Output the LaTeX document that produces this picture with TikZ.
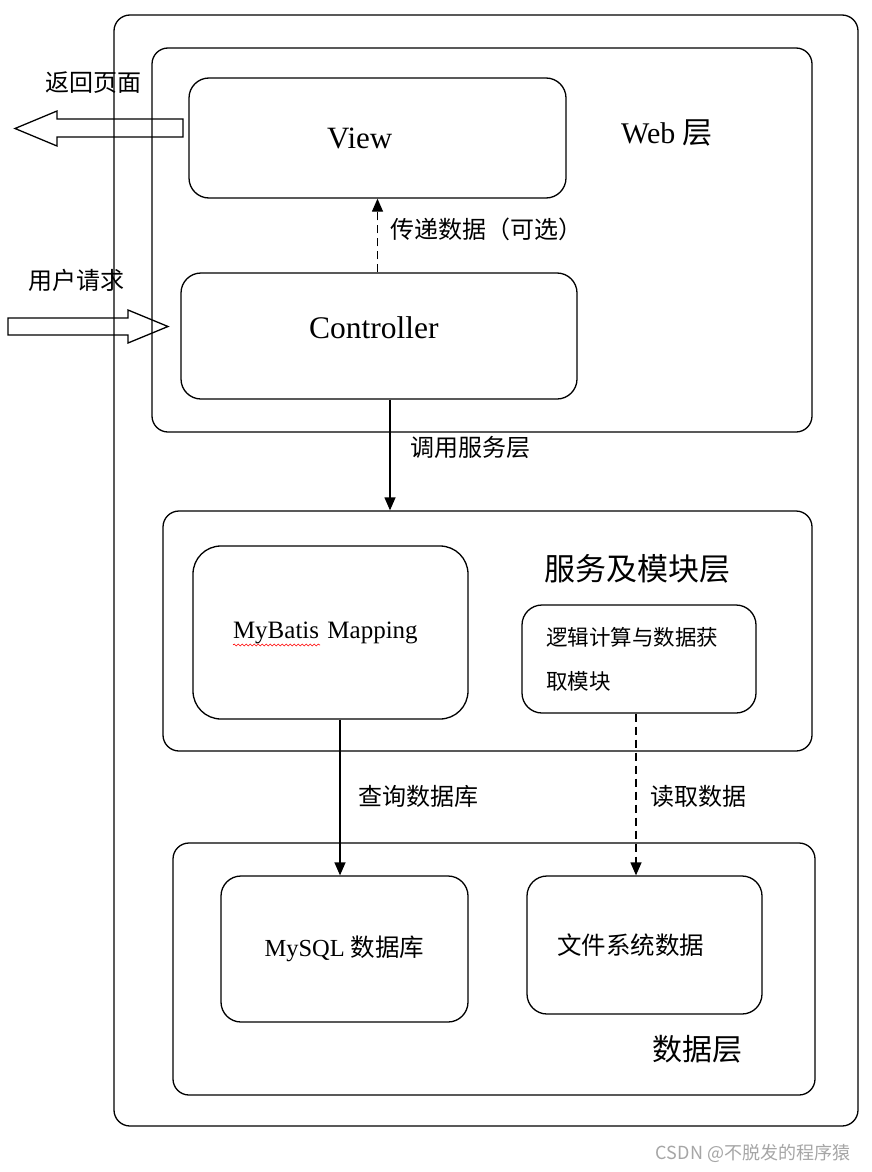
\documentclass[tikz,border=0pt]{standalone}
\usepackage{fontspec}
\setmainfont{Liberation Serif}
\newfontfamily\cjk{Noto Sans CJK SC}
\usetikzlibrary{arrows.meta}
\usetikzlibrary{decorations.pathmorphing}

\begin{document}
\begin{tikzpicture}[
			     x=1pt, y=-1pt,
			     box/.style={draw, line width=1.3pt, rounded corners=20pt, inner sep=0pt},
			     layer/.style={box, rounded corners=16pt},
			     txt/.style={font=\fontsize{24}{28}\selectfont\cjk, inner sep=0pt},
			     big txt/.style={font=\fontsize{30}{34}\selectfont\cjk, inner sep=0pt},
			     normal line/.style={line width=1.3pt, -{Triangle[length=13pt,width=11pt]}},
			     dash line/.style={normal line, dash pattern=on 8pt off 5pt}
			     ]
\useasboundingbox[fill=white] (0,0) rectangle (872,1172);

% layers
\node[layer, minimum width=744, minimum height=1111] (outer) at (486,570.5) {};
\node[layer, minimum width=660, minimum height=384] (web) at (482,240) {};
\node[layer, minimum width=649, minimum height=240] (svc) at (487.5,631) {};
\node[layer, minimum width=642, minimum height=252] (data) at (494,969) {};

% web layer
\node[box, minimum width=377, minimum height=120, inner xsep=138pt, text width=101pt, align=left,
      font=\fontsize{31}{35}\selectfont] (view) at (377.5,138) {View};
\node[box, minimum width=396, minimum height=126, inner xsep=128pt, text width=140pt, align=left, text depth=16pt,
      font=\fontsize{31.5}{35}\selectfont] (ctrl) at (379,336) {Controller};
\node[big txt] (weblbl) at (667,133) {\rmfamily Web \cjk 层};

% service layer
\node[box, rounded corners=28pt, minimum width=275, minimum height=173, inner xsep=40pt, text width=195pt, align=left,
      font=\fontsize{25}{29}\selectfont] (mybatis) at (330.5,632.5) {MyBatis Mapping};
\node[box, minimum width=234, minimum height=108, inner xsep=24pt, text width=186pt, align=left,
      font=\fontsize{21.5}{44}\selectfont\cjk] (logic) at (639,659) {逻辑计算与数据获\\取模块};
\node[txt, font=\fontsize{31}{35}\selectfont\cjk] (svclbl) at (637,569) {服务及模块层};
\draw[red, line width=0.6pt, decorate, decoration={snake, amplitude=1pt, segment length=4pt}] (233,645) -- (320,645);

% data layer
\node[box, minimum width=247, minimum height=146, font=\fontsize{24.5}{28}\selectfont] (mysql) at (344.5,949) {MySQL {\cjk 数据库}};
\node[box, minimum width=235, minimum height=138, inner xsep=30pt, text width=175pt, align=left,
      font=\fontsize{24.5}{28}\selectfont\cjk] (file) at (644.5,945) {文件系统数据};
\node[big txt] (datalbl) at (697,1049) {数据层};

% connectors
\draw[dash line] (ctrl.north -| view.south) -- (view.south);
\node[txt, anchor=west] (passlbl) at (390,229) {传递数据（可选）};
\draw[normal line] ([xshift=11pt]ctrl.south) -- ([xshift=11pt]ctrl.south |- svc.north);
\node[txt, anchor=west] (calllbl) at (410,447) {调用服务层};
\draw[normal line] ([xshift=9.5pt]mybatis.south) -- ([xshift=9.5pt]mybatis.south |- mysql.north);
\node[txt, anchor=west] (querylbl) at (358,796) {查询数据库};
\draw[dash line] ([xshift=-3pt]logic.south) -- ([xshift=-3pt]logic.south |- file.north);
\node[txt, anchor=west] (readlbl) at (650,796) {读取数据};

% request / response
\draw[line width=1.3pt, line join=miter] (183,119) -- (57,119) -- (57,111) -- (15,128.5) -- (57,146) -- (57,137) -- (183,137) -- cycle;
\node[txt] (backlbl) at (93,83) {返回页面};
\draw[line width=1.3pt, line join=miter] (8,318) -- (128,318) -- (128,310) -- (168,326.5) -- (128,343) -- (128,335) -- (8,335) -- cycle;
\node[txt] (reqlbl) at (76,280) {用户请求};

% watermark
\node[font=\fontsize{18}{20}\selectfont\cjk, text=gray!70, inner sep=0pt] (mark) at (753,1153) {CSDN @不脱发的程序猿};
\end{tikzpicture}
\end{document}
